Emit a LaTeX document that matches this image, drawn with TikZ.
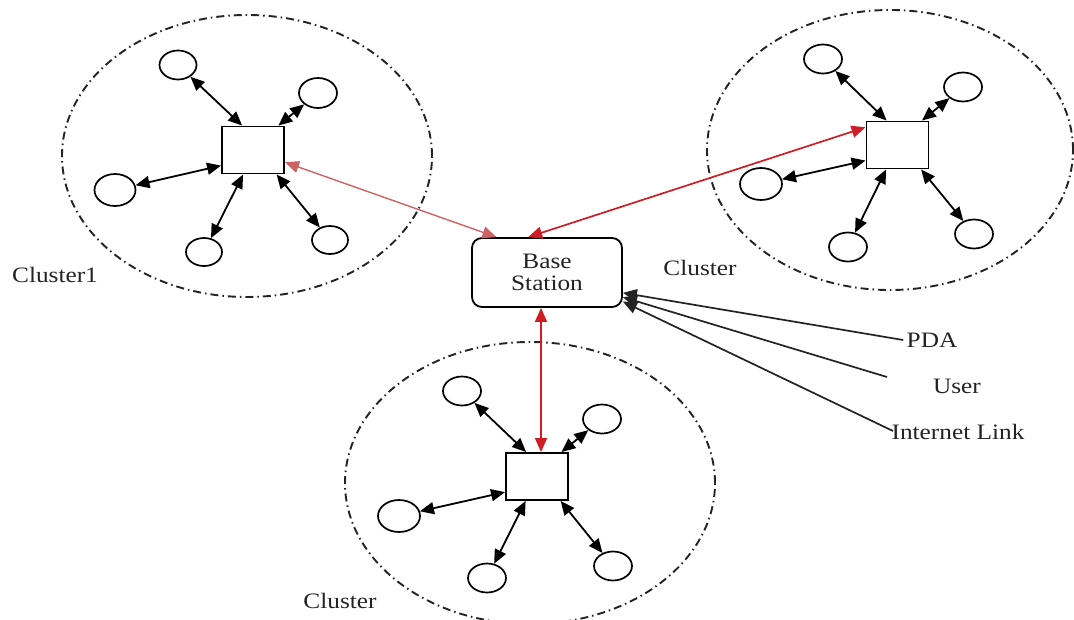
\documentclass[tikz,border=0pt]{standalone}
\usepackage{fontspec}
\setmainfont{Liberation Serif}[FakeStretch=1.15]
\usetikzlibrary{shapes.geometric,arrows.meta,calc}
\definecolor{linkred}{RGB}{208,28,36}
\definecolor{softred}{RGB}{205,100,100}
\definecolor{inkgray}{RGB}{35,35,35}
\tikzset{
  lbl/.style={font=\fontsize{22}{22}\selectfont, text=inkgray},
  cluster/.style={draw=inkgray, line width=1.9pt, ellipse, inner sep=0pt,
    dash pattern=on 8pt off 4pt on 1.5pt off 4pt},
  sensor/.style={draw, ellipse, line width=1.7pt, inner sep=0pt},
  head/.style={draw, rectangle, line width=1.9pt, inner sep=0pt,
    minimum width=62pt, minimum height=47pt},
  link/.style={{Triangle[length=14pt,width=12pt]}-{Triangle[length=14pt,width=12pt]}, line width=1.8pt},
  softlink/.style={link, draw=softred, fill=softred, line width=1.4pt},
  redlink/.style={link, draw=linkred, fill=linkred, line width=1.7pt},
  feed/.style={-{Triangle[length=14pt,width=12pt]}, line width=1.7pt, draw=inkgray},
}
\begin{document}
\begin{tikzpicture}[x=1pt,y=-1pt]
\useasboundingbox (0,0) rectangle (1074,619);

% cluster outlines
\node[cluster, minimum width=370pt, minimum height=282pt] (cl1) at (247,156) {};
\node[cluster, minimum width=366pt, minimum height=280pt] (cl2) at (890,150) {};
\node[cluster, minimum width=370pt, minimum height=282pt] (cl3) at (530,483) {};

% base station
\node[draw, line width=1.8pt, rounded corners=10pt, minimum width=150pt,
      minimum height=69pt, align=center, lbl] (base) at (547,272.5) {Base\\Station};

% cluster 1
\node[head] (s1) at (253,150) {};
\node[sensor, minimum width=37pt, minimum height=29pt] (c1a) at (178,65) {};
\node[sensor, minimum width=38pt, minimum height=30pt] (c1b) at (318,93) {};
\node[sensor, minimum width=41pt, minimum height=32pt] (c1c) at (115,190) {};
\node[sensor, minimum width=36pt, minimum height=28pt] (c1d) at (204,252) {};
\node[sensor, minimum width=36pt, minimum height=28pt] (c1e) at (330,240) {};
\draw[link] (c1a) -- (s1.114);
\draw[link] (c1b) -- (s1.44);
\draw[link] (c1c) -- (s1.206);
\draw[link] (c1d) -- (s1.248);
\draw[link] (c1e) -- (s1.314);

% cluster 2
\node[head] (s2) at (897.5,145) {};
\node[sensor, minimum width=38pt, minimum height=29pt] (c2a) at (823,59) {};
\node[sensor, minimum width=38pt, minimum height=29pt] (c2b) at (963,87) {};
\node[sensor, minimum width=42pt, minimum height=32pt] (c2c) at (761,184) {};
\node[sensor, minimum width=38pt, minimum height=29pt] (c2d) at (848,247) {};
\node[sensor, minimum width=38pt, minimum height=29pt] (c2e) at (974,234) {};
\draw[link] (c2a) -- (s2.114);
\draw[link] (c2b) -- (s2.45);
\draw[link] (c2c) -- (s2.206);
\draw[link] (c2d) -- (s2.245);
\draw[link] (c2e) -- (s2.314);

% cluster 3
\node[head] (s3) at (537,476.5) {};
\node[sensor, minimum width=38pt, minimum height=29pt] (c3a) at (462,391) {};
\node[sensor, minimum width=38pt, minimum height=29pt] (c3b) at (602,419) {};
\node[sensor, minimum width=42pt, minimum height=32pt] (c3c) at (399,516) {};
\node[sensor, minimum width=38pt, minimum height=29pt] (c3d) at (487,578) {};
\node[sensor, minimum width=38pt, minimum height=29pt] (c3e) at (613,566) {};
\draw[link] (c3a) -- (s3.114);
\draw[link] (c3b) -- (s3.45);
\draw[link] (c3c) -- (s3.206);
\draw[link] (c3d) -- (s3.245);
\draw[link] (c3e) -- (s3.314);

% cluster heads to base station
\draw[softlink] (s1.-21) -- (base.145);
\draw[redlink] (s2.151) -- (base.118);
\coordinate (bs) at ($(base.south)+(-6,0)$);
\draw[redlink] (bs) -- (bs |- s3.north);

% labels
\node[lbl] (lab1) at (55,275) {Cluster1};
\node[lbl] (lab2) at (700,268) {Cluster};
\node[lbl] (lab3) at (340,601) {Cluster};
\node[lbl] (pda) at (932,340) {PDA};
\node[lbl] (user) at (957,386) {User};
\node[lbl] (inet) at (958,432) {Internet Link};

% outside connections into the base station
\coordinate (userend) at (887,377);
\coordinate (inetend) at (893,431);
\draw[feed] (pda.west) -- (base.-15);
\draw[feed] (userend) -- (base.-18);
\draw[feed] (inetend) -- (base.-21);
\end{tikzpicture}
\end{document}
